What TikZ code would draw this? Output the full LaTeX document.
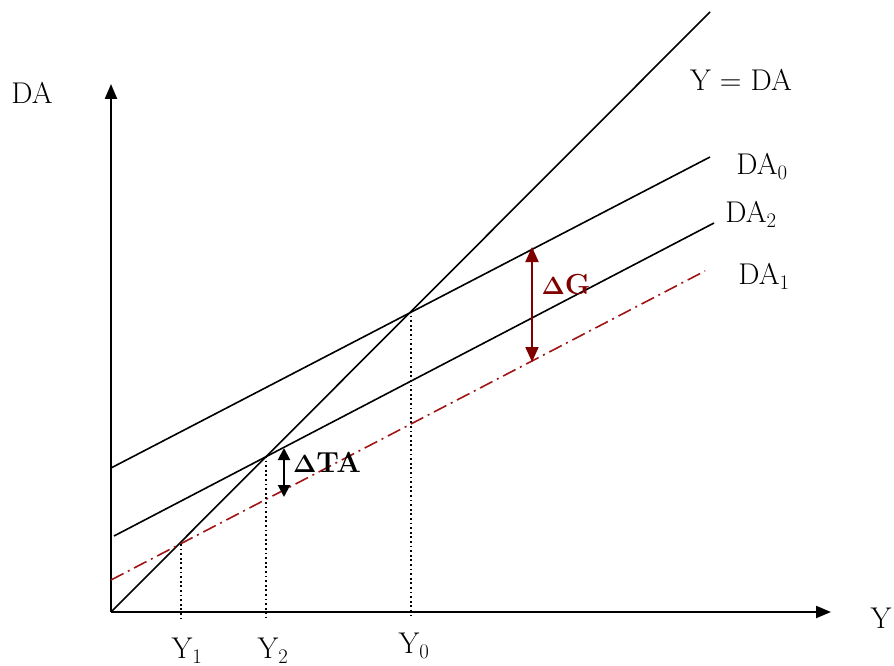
\documentclass[tikz,border=0pt]{standalone}
\usetikzlibrary{arrows.meta}
\definecolor{dred}{RGB}{128,0,0}
\definecolor{dashred}{RGB}{160,20,20}
\begin{document}
\begin{tikzpicture}[x=1pt,y=-1pt,
  axis/.style={line width=2.2pt,-{Triangle[length=15pt,width=12pt]}},
  curve/.style={line width=1.6pt,black},
  dashcurve/.style={line width=1.6pt,dashred,dash pattern=on 14pt off 5pt on 2pt off 5pt},
  dotline/.style={line width=1.8pt,dash pattern=on 1.8pt off 2.8pt},
  lbl/.style={font=\fontsize{30}{36}\selectfont,inner sep=0pt},
  dlbl/.style={font=\fontsize{29}{34}\selectfont\bfseries,inner sep=0pt}]
\useasboundingbox (0,0) rectangle (894,666);
% axes
\coordinate (O) at (111,612);
\coordinate (ytop) at (111,84);
\coordinate (xend) at (831,612);
\draw[axis] (O) -- (ytop);
\draw[axis] (O) -- (xend);
% lines
\coordinate (L45) at (710,12);
\coordinate (a0) at (111,468); \coordinate (b0) at (710,157);
\coordinate (a2) at (114,536); \coordinate (b2) at (714,223);
\coordinate (a1) at (111,580); \coordinate (b1) at (705,271);
\draw[curve] (O) -- (L45);
\draw[curve] (a0) -- (b0);
\draw[curve] (a2) -- (b2);
\draw[dashcurve] (a1) -- (b1);
% equilibrium points
\coordinate (E0) at (411,311);
\coordinate (E2) at (266,456);
\coordinate (E1) at (181,544);
\coordinate (base) at (0,618);
\draw[dotline] (E0) -- (E0 |- base);
\draw[dotline] (E2) -- (E2 |- base);
\draw[dotline] (E1) -- (E1 |- base);
% axis labels
\node[lbl] (tDA) at (32,93) {DA};
\node[lbl] (tY) at (881,618) {Y};
\node[lbl] (tY1) at (187,651) {Y$_1$};
\node[lbl] (tY2) at (273,651) {Y$_2$};
\node[lbl] (tY0) at (414,646) {Y$_0$};
% line labels
\node[lbl] (tYDA) at (741,80) {Y = DA};
\node[lbl] (tDA0) at (762,166) {DA$_0$};
\node[lbl] (tDA2) at (751,214) {DA$_2$};
\node[lbl] (tDA1) at (764,276) {DA$_1$};
% Delta G
\coordinate (g1) at (532,247);
\coordinate (g2) at (532,362);
\draw[dred,line width=2pt,{Triangle[length=15pt,width=13pt]}-{Triangle[length=15pt,width=13pt]}] (g1) -- (g2);
\node[dlbl,text=dred] (tG) at (566,285) {$\mathbf{\Delta}$G};
% Delta TA
\coordinate (t1) at (284,448);
\coordinate (t2) at (284,497);
\draw[black,line width=2pt,{Triangle[length=12pt,width=12pt]}-{Triangle[length=12pt,width=12pt]}] (t1) -- (t2);
\node[dlbl] (tTA) at (327,462) {$\mathbf{\Delta}$TA};
\end{tikzpicture}
\end{document}
